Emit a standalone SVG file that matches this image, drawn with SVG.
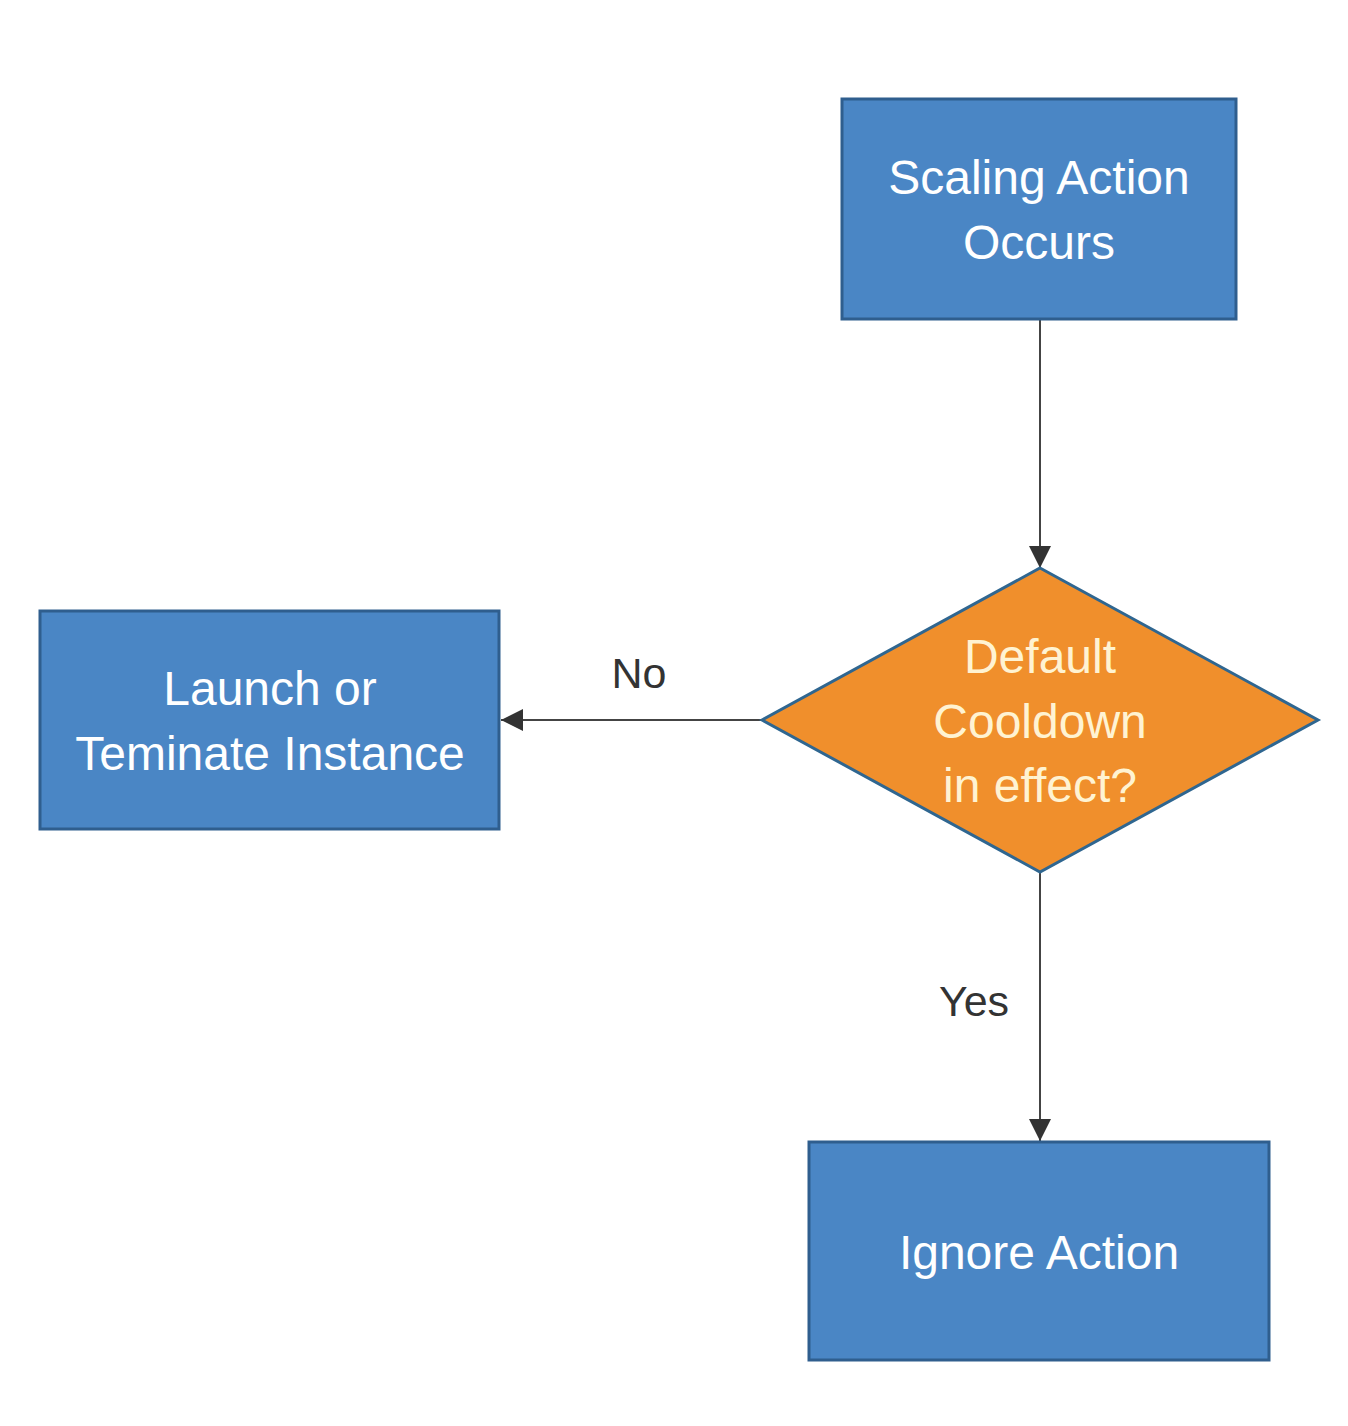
<svg xmlns="http://www.w3.org/2000/svg" width="1348" height="1426" viewBox="0 0 1348 1426">
<style>
.box{fill:#4A86C5;stroke:#2F5E8E;stroke-width:3}
.dia{fill:#F08F2C;stroke:#2F6690;stroke-width:3}
.t{font-family:"Liberation Sans",Arial,sans-serif;font-size:48px;fill:#FFFFFF;text-anchor:middle}
.td{font-family:"Liberation Sans",Arial,sans-serif;font-size:48px;fill:#FFF3D2;text-anchor:middle}
.lbl{font-family:"Liberation Sans",Arial,sans-serif;font-size:43px;fill:#333333;text-anchor:middle}
.edge{stroke:#444444;stroke-width:2;fill:none}
</style>
<defs>
<marker id="arrb" viewBox="0 0 10 10" refX="10" refY="5" markerWidth="22" markerHeight="22" markerUnits="userSpaceOnUse" orient="auto">
<path d="M0,0 L10,5 L0,10 Z" fill="#333333"/>
</marker>
</defs>
<rect width="1348" height="1426" fill="#FFFFFF"/>
<g id="connectors">
<line class="edge" x1="1040" y1="320" x2="1040" y2="568" marker-end="url(#arrb)"/>
<line class="edge" x1="762" y1="720" x2="501" y2="720" marker-end="url(#arrb)"/>
<line class="edge" x1="1040" y1="872" x2="1040" y2="1141" marker-end="url(#arrb)"/>
<text class="lbl" x="639" y="688">No</text>
<text class="lbl" x="974" y="1016">Yes</text>
</g>
<g id="scaling">
<rect class="box" x="842" y="99" width="394" height="220"/>
<text class="t" x="1039" y="194">Scaling Action</text>
<text class="t" x="1039" y="259">Occurs</text>
</g>
<g id="cooldown">
<polygon class="dia" points="1040,568 1318,720 1040,872 762,720"/>
<text class="td" x="1040" y="673">Default</text>
<text class="td" x="1040" y="738">Cooldown</text>
<text class="td" x="1040" y="802">in effect?</text>
</g>
<g id="launch">
<rect class="box" x="40" y="611" width="459" height="218"/>
<text class="t" x="270" y="705">Launch or</text>
<text class="t" x="270" y="770">Teminate Instance</text>
</g>
<g id="ignore">
<rect class="box" x="809" y="1142" width="460" height="218"/>
<text class="t" x="1039" y="1269">Ignore Action</text>
</g>
</svg>
